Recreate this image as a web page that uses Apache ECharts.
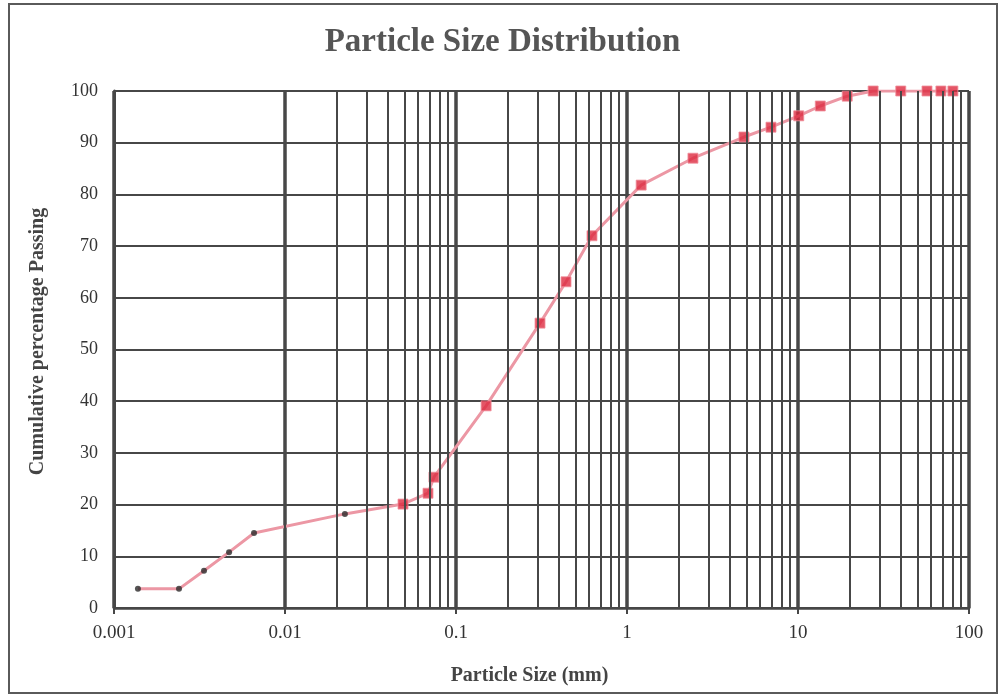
<!DOCTYPE html>
<html>
<head>
<meta charset="utf-8">
<script src="https://cdn.jsdelivr.net/npm/echarts@6/dist/echarts.min.js"></script>
<style>
html,body{margin:0;padding:0;background:#fff;}
#chart{width:1005px;height:698px;}
</style>
</head>
<body>
<div id="chart"></div>
<script>
// Hydrometer points (black dots)
const hydroSizes  = [0.00138, 0.0024, 0.00336, 0.00471, 0.00659, 0.0224];
const hydroPass   = [3.7, 3.7, 7.2, 10.8, 14.5, 18.2];
// Sieve points (red squares)
const sieveSizes  = [0.049, 0.0686, 0.0743, 0.15, 0.31, 0.44, 0.624, 1.21, 2.43, 4.83, 6.95, 10.1, 13.5, 19.4, 27.5, 39.9, 56.8, 68.5, 80.5];
const sievePass   = [20.1, 22.2, 25.3, 39.1, 55.1, 63.1, 72.0, 81.8, 87.0, 91.1, 93.0, 95.2, 97.1, 99.0, 100, 100, 100, 100, 100];
const xTickLabels = ['0.001', '0.01', '0.1', '1', '10', '100'];
const yTickLabels = ['0','10','20','30','40','50','60','70','80','90','100'];
const decades = [0.001, 0.01, 0.1, 1, 10];
const minorMult = [2, 3, 4, 5, 6, 7, 8, 9];

const hydroData = hydroSizes.map((s, i) => [s, hydroPass[i]]);
const sieveData = sieveSizes.map((s, i) => [s, sievePass[i]]);
const allData = hydroData.concat(sieveData);

const minorLines = [];
decades.forEach(d => minorMult.forEach(m => minorLines.push({ xAxis: +(d * m).toPrecision(3) })));

const serif = '"Liberation Serif","DejaVu Serif",serif';
const gridColor = '#474747';

const chart = echarts.init(document.getElementById('chart'), null, { renderer: 'canvas' });
chart.setOption({
  backgroundColor: '#fff',
  animation: false,
  title: {
    text: 'Particle Size Distribution',
    left: 'center',
    top: 21,
    textStyle: { fontFamily: serif, fontWeight: 'bold', fontSize: 33, color: '#555' }
  },
  graphic: [{
    type: 'rect',
    shape: { x: 9, y: 4, width: 988, height: 689 },
    style: { fill: 'none', stroke: '#5a5a5a', lineWidth: 2 },
    z: 0, silent: true
  }],
  grid: { left: 114, top: 91, right: 36, bottom: 90 },
  xAxis: {
    type: 'log',
    logBase: 10,
    min: 0.001,
    max: 100,
    name: 'Particle Size (mm)',
    nameLocation: 'middle',
    nameGap: 58,
    nameTextStyle: { fontFamily: serif, fontWeight: 'bold', fontSize: 20, color: '#444', padding: [0, 24, 0, 0] },
    axisLine: { show: true, onZero: false, lineStyle: { color: gridColor, width: 2.5 } },
    axisTick: { show: true, length: 6, lineStyle: { color: gridColor, width: 2 } },
    axisLabel: {
      fontFamily: serif, fontSize: 19, color: '#333', margin: 16,
      formatter: v => {
        const i = Math.round(Math.log10(v) + 3);
        return xTickLabels[i] !== undefined ? xTickLabels[i] : '';
      }
    },
    splitLine: { show: true, lineStyle: { color: gridColor, width: 3.5 } }
  },
  yAxis: {
    type: 'value',
    min: 0,
    max: 100,
    interval: 10,
    name: 'Cumulative percentage Passing',
    nameLocation: 'middle',
    nameGap: 66,
    nameTextStyle: { fontFamily: serif, fontWeight: 'bold', fontSize: 20, color: '#444', padding: [0, 0, 0, 16] },
    axisLine: { show: true, lineStyle: { color: gridColor, width: 3 } },
    axisTick: { show: false },
    axisLabel: {
      fontFamily: serif, fontSize: 18, color: '#333', margin: 16,
      formatter: v => yTickLabels[Math.round(v / 10)]
    },
    splitLine: { show: true, lineStyle: { color: gridColor, width: 2 } }
  },
  series: [
    {
      type: 'line',
      data: [],
      z: 1,
      silent: true,
      markLine: {
        silent: true,
        symbol: ['none', 'none'],
        label: { show: false },
        lineStyle: { color: gridColor, width: 2, type: 'solid' },
        data: minorLines,
        animation: false
      }
    },
    {
      type: 'line',
      data: allData,
      showSymbol: false,
      symbol: 'none',
      z: 3,
      lineStyle: { color: '#ec97a4', width: 3 }
    },
    {
      type: 'scatter',
      data: hydroData,
      symbol: 'circle',
      symbolSize: 6,
      z: 4,
      itemStyle: { color: '#2b2b2b' }
    },
    {
      type: 'scatter',
      data: sieveData,
      symbol: 'rect',
      symbolSize: 10,
      z: 4,
      itemStyle: { color: '#dd2a40', borderColor: '#f0909c', borderWidth: 1 }
    }
  ]
});
</script>
</body>
</html>
